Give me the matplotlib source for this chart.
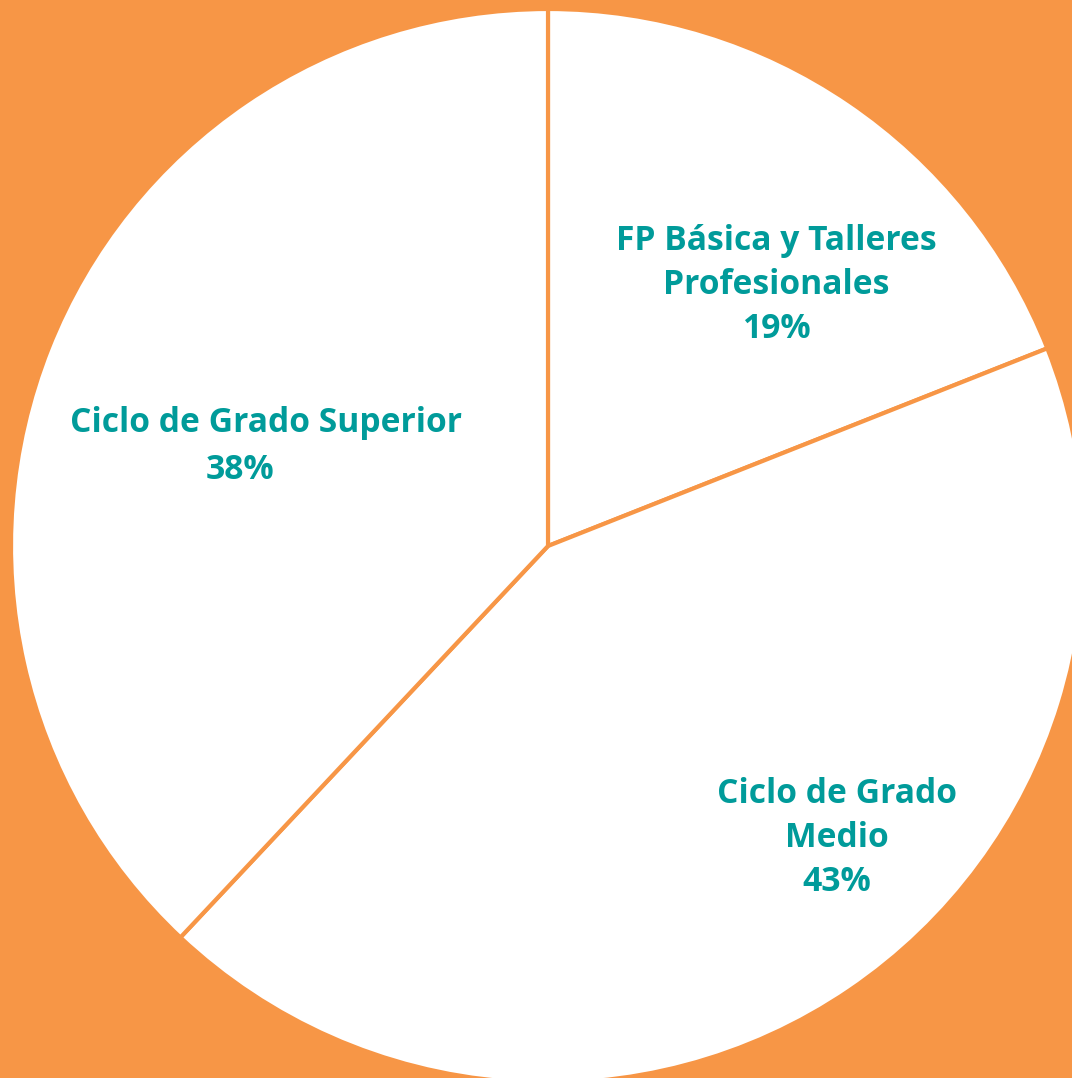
import matplotlib
matplotlib.use("Agg")
import matplotlib.pyplot as plt

categories = ["FP Básica y Talleres\nProfesionales", "Ciclo de Grado\nMedio", "Ciclo de Grado Superior"]
values = [19, 43, 38]
pct_labels = ["19%", "43%", "38%"]

ORANGE = "#F79646"
TEAL = "#009B9A"

fig = plt.figure(figsize=(10.72, 10.78), dpi=100)
fig.patch.set_facecolor(ORANGE)
ax = fig.add_axes([0, 0, 1, 1])
ax.set_facecolor(ORANGE)

ax.pie(values, startangle=90, counterclock=False, center=(548, 532), radius=537,
       colors=["white"] * 3, frame=True,
       wedgeprops=dict(edgecolor=ORANGE, linewidth=3.0))
ax.set_xlim(0, 1072)
ax.set_ylim(0, 1078)
ax.set_aspect("equal")
ax.axis("off")

style = dict(ha="center", va="center", color=TEAL, fontsize=24.2,
             fontweight="bold", family="Open Sans", linespacing=1.4)

ax.text(776, 793, f"{categories[0]}\n{pct_labels[0]}", **style)
ax.text(837, 240, f"{categories[1]}\n{pct_labels[1]}", **style)
ax.text(266, 655, categories[2], **style)
ax.text(240, 608, pct_labels[2], **style)

fig.savefig("out.png", dpi=100, facecolor=ORANGE)
